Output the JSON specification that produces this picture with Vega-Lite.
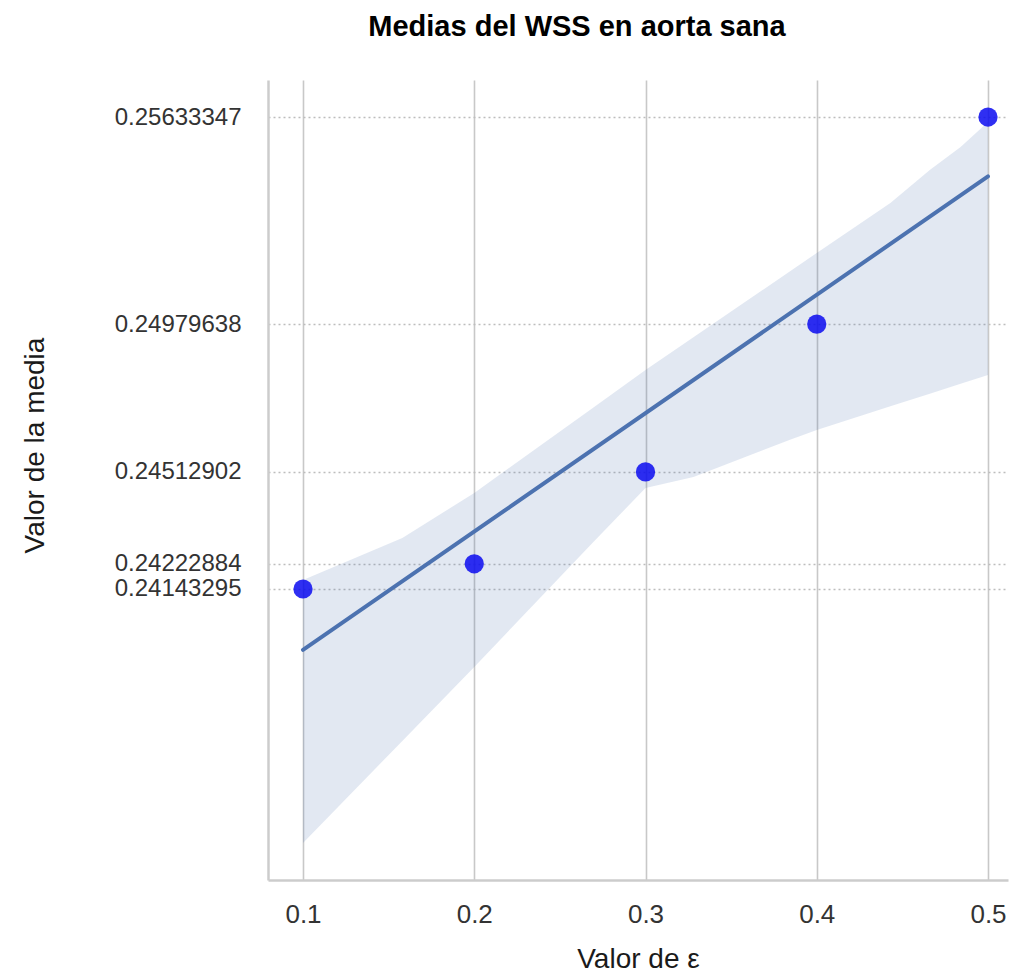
{
  "$schema": "https://vega.github.io/schema/vega-lite/v6.json",
  "width": 740,
  "height": 800,
  "autosize": {"type": "none"},
  "padding": {"left": 268, "top": 80, "right": 3, "bottom": 93},
  "background": "white",
  "title": {
    "text": "Medias del WSS en aorta sana",
    "font": "Liberation Sans",
    "fontSize": 29,
    "fontWeight": "bold",
    "color": "#000000",
    "anchor": "middle",
    "dx": -61,
    "offset": 38
  },
  "config": {
    "view": {"stroke": null},
    "font": "Liberation Sans"
  },
  "datasets": {
    "pts": [
      {"eps": 0.1, "media": 0.24143295},
      {"eps": 0.2, "media": 0.24222884},
      {"eps": 0.3, "media": 0.24512902},
      {"eps": 0.4, "media": 0.24979638},
      {"eps": 0.5, "media": 0.25633347}
    ],
    "fit": [
      {"eps": 0.1, "media": 0.23951041},
      {"eps": 0.5, "media": 0.25445785}
    ],
    "band": [
      {"eps": 0.1, "lo": 0.233414, "hi": 0.241717},
      {"eps": 0.158, "lo": 0.236637, "hi": 0.243043},
      {"eps": 0.2, "lo": 0.238971, "hi": 0.244464},
      {"eps": 0.269, "lo": 0.242885, "hi": 0.247143},
      {"eps": 0.3, "lo": 0.244622, "hi": 0.248347},
      {"eps": 0.328, "lo": 0.244969, "hi": 0.249381},
      {"eps": 0.384, "lo": 0.246137, "hi": 0.25145},
      {"eps": 0.4, "lo": 0.246453, "hi": 0.252041},
      {"eps": 0.443, "lo": 0.247199, "hi": 0.253619},
      {"eps": 0.466, "lo": 0.247599, "hi": 0.254661},
      {"eps": 0.484, "lo": 0.247911, "hi": 0.255387},
      {"eps": 0.5, "lo": 0.248189, "hi": 0.256176}
    ]
  },
  "layer": [
    {
      "data": {"name": "band"},
      "mark": {"type": "area", "color": "#4c72b0", "opacity": 0.16},
      "encoding": {
        "x": {
          "field": "eps", "type": "quantitative",
          "scale": {"domain": [0.07956, 0.51168], "nice": false, "zero": false},
          "axis": {
            "title": "Valor de ε",
            "titleFont": "Liberation Sans",
            "titleFontSize": 28,
            "titleFontWeight": "normal",
            "titleColor": "#1a1a1a",
            "titlePadding": 18,
            "values": [0.1, 0.2, 0.3, 0.4, 0.5],
            "format": ".1f",
            "labelFont": "Liberation Sans",
            "labelFontSize": 26,
            "labelColor": "#333333",
            "labelPadding": 21,
            "ticks": false,
            "domain": true,
            "domainColor": "#cccccc",
            "domainWidth": 2.5,
            "grid": true,
            "gridColor": "#c8c8c8",
            "gridWidth": 1.6
          }
        },
        "y": {
          "field": "lo", "type": "quantitative",
          "scale": {"domain": [0.232246, 0.257502], "nice": false, "zero": false},
          "axis": {
            "title": "Valor de la media",
            "titleFont": "Liberation Sans",
            "titleFontSize": 28,
            "titleFontWeight": "normal",
            "titleColor": "#1a1a1a",
            "titleAngle": 270,
            "titleAlign": "center",
            "titleBaseline": "middle",
            "titleX": -233,
            "titleY": 365,
            "values": [0.24143295, 0.24222884, 0.24512902, 0.24979638, 0.25633347],
            "format": ".8f",
            "labelFont": "Liberation Sans",
            "labelFontSize": 24,
            "labelColor": "#333333",
            "labelPadding": 27,
            "labelOverlap": false,
            "ticks": false,
            "domain": true,
            "domainColor": "#cccccc",
            "domainWidth": 2.5,
            "grid": true,
            "gridColor": "#bdbdbd",
            "gridWidth": 1.3,
            "gridDash": [2, 3]
          }
        },
        "y2": {"field": "hi"}
      }
    },
    {
      "data": {"name": "fit"},
      "mark": {"type": "line", "color": "#4c72b0", "strokeWidth": 4, "strokeCap": "round"},
      "encoding": {
        "x": {"field": "eps", "type": "quantitative"},
        "y": {"field": "media", "type": "quantitative"}
      }
    },
    {
      "data": {"name": "pts"},
      "mark": {"type": "circle", "color": "#0a0af0", "opacity": 0.85, "size": 370},
      "encoding": {
        "x": {"field": "eps", "type": "quantitative"},
        "y": {"field": "media", "type": "quantitative"}
      }
    }
  ]
}
